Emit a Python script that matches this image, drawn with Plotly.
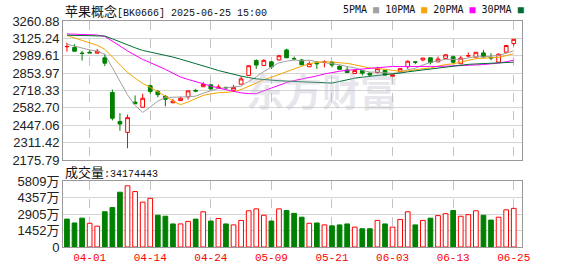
import plotly.graph_objects as go

# ---------------- data ----------------
dates = ["03-27", "03-28", "03-31", "04-01", "04-02", "04-03", "04-07", "04-08", "04-09", "04-10",
         "04-11", "04-14", "04-15", "04-16", "04-17", "04-18", "04-21", "04-22", "04-23", "04-24",
         "04-25", "04-28", "04-29", "04-30", "05-06", "05-07", "05-08", "05-09", "05-12", "05-13",
         "05-14", "05-15", "05-16", "05-19", "05-20", "05-21", "05-22", "05-23", "05-26", "05-27",
         "05-28", "05-29", "05-30", "06-03", "06-04", "06-05", "06-06", "06-09", "06-10", "06-11",
         "06-12", "06-13", "06-16", "06-17", "06-18", "06-19", "06-20", "06-23", "06-24", "06-25"]

opens = [3060, 3055, 3010, 3017, 3010, 2974, 2703, 2477, 2392, 2628,
         2588, 2756, 2711, 2673, 2623, 2640, 2670, 2719, 2748, 2763,
         2736, 2743, 2721, 2768, 2836, 2952, 2914, 2942, 2957, 3035,
         2968, 2957, 2904, 2936, 2940, 2939, 2907, 2879, 2851, 2874,
         2854, 2859, 2876, 2829, 2866, 2904, 2942, 2957, 2974, 2942,
         2969, 2982, 2927, 2988, 2979, 3012, 2975, 2939, 3017, 3085]
highs = [3092, 3080, 3027, 3037, 3042, 3005, 2726, 2542, 2530, 2680,
         2693, 2766, 2723, 2683, 2653, 2670, 2716, 2731, 2784, 2768,
         2766, 2748, 2763, 2829, 2915, 2962, 2962, 2949, 2997, 3045,
         2984, 2964, 2947, 2949, 2954, 2947, 2917, 2907, 2874, 2879,
         2859, 2904, 2879, 2841, 2889, 2954, 2942, 2972, 2974, 2984,
         3002, 2992, 2987, 3015, 3017, 3035, 3010, 3007, 3070, 3118]
lows = [3022, 3025, 2952, 3012, 3010, 2909, 2485, 2404, 2268, 2615,
        2588, 2693, 2665, 2595, 2620, 2640, 2648, 2706, 2746, 2721,
        2731, 2728, 2706, 2768, 2833, 2887, 2914, 2887, 2952, 2972,
        2952, 2917, 2904, 2887, 2899, 2899, 2879, 2854, 2851, 2836,
        2826, 2851, 2836, 2824, 2861, 2887, 2924, 2947, 2922, 2942,
        2964, 2929, 2927, 2977, 2979, 2969, 2954, 2939, 3017, 3067]
closes = [3062, 3025, 3008, 3012, 3025, 2932, 2502, 2457, 2507, 2615,
          2658, 2711, 2686, 2650, 2635, 2658, 2716, 2714, 2766, 2731,
          2746, 2740, 2743, 2809, 2912, 2917, 2954, 2902, 2990, 2974,
          2965, 2919, 2929, 2927, 2942, 2917, 2884, 2859, 2874, 2854,
          2839, 2889, 2839, 2841, 2889, 2947, 2940, 2972, 2937, 2964,
          2997, 2939, 2972, 2990, 3017, 2982, 2972, 3002, 3070, 3118]
# closes before the window, inferred from where the moving averages start
prior_closes = [3030, 3020, 3020, 3030, 3100, 3150, 3200, 3230, 3250, 3270,
                3060, 3050, 3060, 3070, 3150, 3200, 3250, 3280, 3300, 3300,
                3205, 3178, 3215, 3240, 3242, 3100, 3090, 3080, 3068]
# volume in 万 (10k shares)
volumes = [2466, 2125, 2551, 2097, 1842, 3117, 3486, 4846, 5413, 4903,
           3968, 4308, 2806, 2721, 2041, 2041, 2267, 2466, 3117, 2296,
           2522, 2041, 1955, 2352, 3202, 3372, 2806, 2296, 3372, 3231,
           2976, 2636, 2097, 2125, 1955, 1870, 1955, 2041, 1757, 1615,
           1615, 2352, 2041, 1757, 2437, 3117, 1955, 2352, 2551, 2777,
           2947, 3231, 2721, 2862, 3202, 2806, 2381, 2636, 3287, 3417]
last_volume = 34174443

price_ticks = [2175.79, 2311.42, 2447.06, 2582.70, 2718.33, 2853.97, 2989.61, 3125.24, 3260.88]
vol_ticks = [0, 1452, 2905, 4357, 5809]
vol_tick_text = ["0", "1452万", "2905万", "4357万", "5809万"]
label_dates = ["04-01", "04-14", "04-24", "05-09", "05-21", "06-03", "06-13", "06-25"]

ma_periods = [5, 10, 20, 30]
ma_names = ["5PMA", "10PMA", "20PMA", "30PMA"]
ma_colors = ["#a0a0a0", "#f5a500", "#ff00ff", "#006e35"]

RED = "#ff0000"
GREEN = "#008000"
GRID_V = "#c4c4c4"


def moving_average(n):
    full = prior_closes + closes
    off = len(prior_closes)
    return [sum(full[off + i - n + 1: off + i + 1]) / n for i in range(len(closes))]


xi = list(range(len(dates)))                      # trading-day index
label_idx = [dates.index(d) for d in label_dates]
prev_close = [prior_closes[-1]] + closes[:-1]
vol_up = [c > p for c, p in zip(closes, prev_close)]

fig = go.Figure()

# volume bars
fig.add_trace(go.Bar(
    x=xi, y=volumes, xaxis="x", yaxis="y", width=0.62,
    marker=dict(color=["white" if u else GREEN for u in vol_up],
                line=dict(color=[RED if u else GREEN for u in vol_up], width=1)),
    hoverinfo="skip"))

# moving averages
for n, name, col in zip(ma_periods, ma_names, ma_colors):
    fig.add_trace(go.Scatter(x=xi, y=moving_average(n), mode="lines", name=name,
                             line=dict(color=col, width=1), xaxis="x2", yaxis="y2",
                             hoverinfo="skip"))

# candles
fig.add_trace(go.Candlestick(
    x=xi, open=opens, high=highs, low=lows, close=closes, xaxis="x2", yaxis="y2",
    increasing=dict(line=dict(color=RED, width=1), fillcolor="white"),
    decreasing=dict(line=dict(color=GREEN, width=1), fillcolor=GREEN),
    whiskerwidth=0, hoverinfo="skip"))

H_PLOT = 234.0
vol_domain = [0, 68 / H_PLOT]
price_domain = [90 / H_PLOT, 1]
xrange = [-0.52, len(dates) - 1 + 1.09]

axis_common = dict(showline=True, linecolor="#999999", linewidth=1, mirror=True, zeroline=False)
xgrid = dict(showgrid=True, gridcolor=GRID_V, griddash="dash", gridwidth=1)
ygrid = dict(showgrid=True, gridcolor="#d4d4d4", gridwidth=1)
tickfont_y = dict(family="Arial, Liberation Sans, Noto Sans CJK SC", size=13, color="#222222")

fig.update_layout(
    width=578, height=276,
    margin=dict(l=56, r=56, t=21, b=21),
    paper_bgcolor="white", plot_bgcolor="white",
    showlegend=False,
    xaxis=dict(type="linear", domain=[0, 1], anchor="y", range=xrange,
               tickmode="array", tickvals=label_idx, ticktext=label_dates, ticks="",
               tickfont=dict(family="Liberation Mono", size=11, color=RED),
               rangeslider=dict(visible=False), **xgrid, **axis_common),
    xaxis2=dict(type="linear", domain=[0, 1], anchor="y2", range=xrange,
                tickmode="array", tickvals=label_idx, ticktext=label_dates,
                showticklabels=False, ticks="",
                rangeslider=dict(visible=False), **xgrid, **axis_common),
    yaxis=dict(domain=vol_domain, anchor="x", range=[0, 5809], tickvals=vol_ticks,
               ticktext=vol_tick_text, ticks="", tickfont=tickfont_y, **ygrid, **axis_common),
    yaxis2=dict(domain=price_domain, anchor="x2", range=[price_ticks[0], price_ticks[-1]],
                tickvals=price_ticks, ticktext=[f"{v:.2f}" for v in price_ticks], ticks="",
                tickfont=tickfont_y, **ygrid, **axis_common),
)

cjk = "font-family:Noto Sans CJK SC;font-size:13px"
annotations = [
    dict(text=f'<span style="{cjk}">苹果概念</span>[BK0666] 2025-06-25 15:00',
         xref="paper", yref="paper", x=0.0, y=(H_PLOT + 11) / H_PLOT, xanchor="left", yanchor="middle",
         showarrow=False, font=dict(family="Liberation Mono", size=10, color="#111111")),
    dict(text=f'<span style="{cjk}">成交量</span>:{last_volume}',
         xref="paper", yref="paper", x=0.0, y=(68 + 10) / H_PLOT, xanchor="left", yanchor="middle",
         showarrow=False, font=dict(family="Liberation Mono", size=10, color="#111111")),
    dict(text="东方财富", xref="paper", yref="paper", x=0.565, y=(255 - 92) / H_PLOT,
         xanchor="center", yanchor="middle", showarrow=False,
         font=dict(family="Noto Sans CJK SC", size=38, color="rgba(185,185,200,0.35)", weight="bold")),
]
legend_html = " ".join(f'{nm} <span style="color:{c}">■</span>' for nm, c in zip(ma_names, ma_colors))
annotations.append(dict(text=legend_html, xref="paper", yref="paper", x=(338 - 56) / 466.0,
                        y=(H_PLOT + 12) / H_PLOT, xanchor="left", yanchor="middle", showarrow=False,
                        font=dict(family="DejaVu Sans Mono", size=10, color="#111111")))
fig.update_layout(annotations=annotations)

fig.write_html("out.html")
